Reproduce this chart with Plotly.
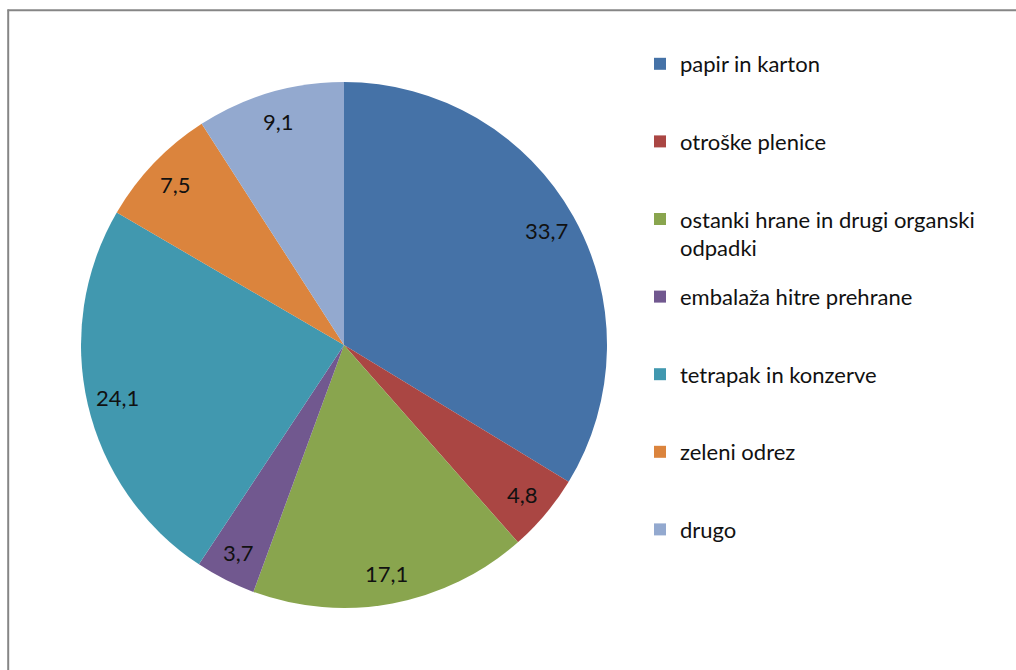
import math
import plotly.graph_objects as go

categories = [
    "papir in karton",
    "otroške plenice",
    "ostanki hrane in drugi organski<br>odpadki",
    "embalaža hitre prehrane",
    "tetrapak in konzerve",
    "zeleni odrez",
    "drugo",
]
values = [33.7, 4.8, 17.1, 3.7, 24.1, 7.5, 9.1]
colors = ["#4572A7", "#AA4643", "#89A54E", "#71588F", "#4198AF", "#DB843D", "#93A9CF"]

W, H = 1016, 670
CX, CY, R = 344, 345, 263  # pie centre / radius in pixels

FONT = "Lato, Calibri, Carlito, sans-serif"
FS = 22

fig = go.Figure()
fig.add_trace(go.Pie(
    labels=categories,
    values=values,
    sort=False,
    direction="clockwise",
    rotation=0,
    marker=dict(colors=colors, line=dict(width=0)),
    textinfo="none",
    hoverinfo="label+value",
    showlegend=False,
    domain=dict(x=[(CX - R) / W, (CX + R) / W], y=[(H - CY - R) / H, (H - CY + R) / H]),
))

# legend entries (one per category, padded to two lines so spacing is even)
for c, col in zip(categories, colors):
    n = c.count("<br>") + 1
    fig.add_trace(go.Scatter(
        x=[None], y=[None], mode="markers",
        marker=dict(symbol="square", size=12, color=col),
        name=c + "<br>\u00a0" * (2 - n),
        legendgroup=c, showlegend=True, hoverinfo="skip",
    ))

# data labels near the outer edge of each slice, positioned from the values
total = sum(values)
cum = 0.0
annotations = []
for v in values:
    mid = (cum + v / 2) / total * 2 * math.pi
    cum += v
    rl = 0.885 * R
    px = CX + rl * math.sin(mid)
    py = CY - rl * math.cos(mid)
    annotations.append(dict(
        x=px / W, y=1 - py / H, xref="paper", yref="paper",
        text=f"{v:.1f}".replace(".", ","), showarrow=False,
        font=dict(family=FONT, size=FS, color="#111111"),
        xanchor="center", yanchor="middle",
    ))

fig.update_layout(
    width=W, height=H,
    margin=dict(l=0, r=0, t=0, b=0),
    paper_bgcolor="white",
    plot_bgcolor="white",
    xaxis=dict(visible=False),
    yaxis=dict(visible=False),
    font=dict(family=FONT, size=FS, color="#111111"),
    annotations=annotations,
    legend=dict(
        x=640 / W, y=1 - 43 / H, xanchor="left", yanchor="top",
        valign="top",
        font=dict(family=FONT, size=FS, color="#111111"),
        bgcolor="rgba(0,0,0,0)",
        tracegroupgap=17.4,
    ),
    shapes=[
        dict(type="line", xref="paper", yref="paper",
             x0=8.2 / W, x1=8.2 / W, y0=1 - 9.5 / H, y1=0,
             line=dict(color="#868686", width=2)),
        dict(type="line", xref="paper", yref="paper",
             x0=7.5 / W, x1=1, y0=1 - 10.2 / H, y1=1 - 10.2 / H,
             line=dict(color="#868686", width=2)),
    ],
)

fig.write_html("out.html", config={"displayModeBar": False},
               post_script="document.body.style.margin='0';")
